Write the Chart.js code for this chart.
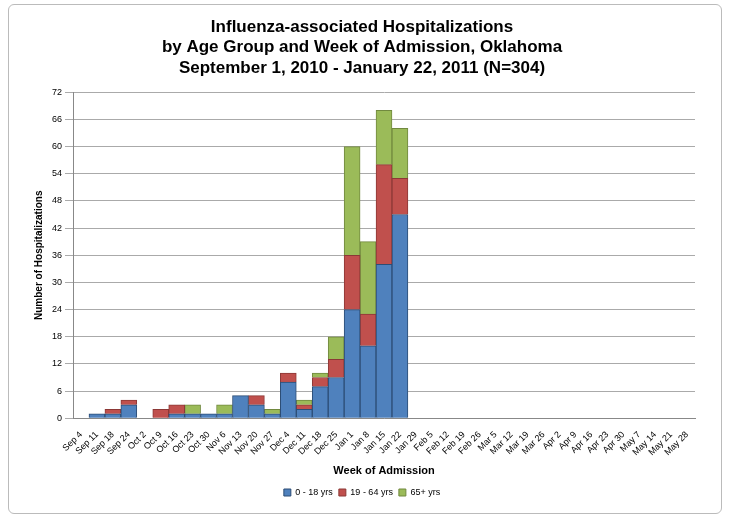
<!DOCTYPE html>
<html><head><script src="https://cdn.jsdelivr.net/npm/chart.js@4"></script>
<style>body{margin:0;background:#fff}#w{position:absolute;left:8px;top:4px;width:712px;height:508px;border:1px solid #bbb;border-radius:6px}</style></head>
<body><div id="w"><canvas id="c" width="712" height="508"></canvas></div>
<script>
const categories=["Sep 4","Sep 11","Sep 18","Sep 24","Oct 2","Oct 9","Oct 16","Oct 23","Oct 30","Nov 6","Nov 13","Nov 20","Nov 27","Dec 4","Dec 11","Dec 18","Dec 25","Jan 1","Jan 8","Jan 15","Jan 22","Jan 29","Feb 5","Feb 12","Feb 19","Feb 26","Mar 5","Mar 12","Mar 19","Mar 26","Apr 2","Apr 9","Apr 16","Apr 23","Apr 30","May 7","May 14","May 21","May 28"];
const age0_18=[0,1,1,3,0,0,1,1,1,1,5,3,1,8,2,7,9,24,16,34,45,0,0,0,0,0,0,0,0,0,0,0,0,0,0,0,0,0,0];
const age19_64=[0,0,1,1,0,2,2,0,0,0,0,2,0,2,1,2,4,12,7,22,8,0,0,0,0,0,0,0,0,0,0,0,0,0,0,0,0,0,0];
const age65=[0,0,0,0,0,0,0,2,0,2,0,0,1,0,1,1,5,24,16,12,11,0,0,0,0,0,0,0,0,0,0,0,0,0,0,0,0,0,0];
const ds=(l,d,bg,bc)=>({label:l,data:d,backgroundColor:bg,borderColor:bc,borderWidth:1,barPercentage:1,categoryPercentage:1});
new Chart(document.getElementById('c'),{type:'bar',data:{labels:categories,datasets:[
ds('0 - 18 yrs',age0_18,'#4f81bd','#2c4d75'),ds('19 - 64 yrs',age19_64,'#c0504d','#8c3836'),ds('65+ yrs',age65,'#9bbb59','#71893f')]},
options:{animation:false,responsive:false,devicePixelRatio:1,layout:{padding:{left:20,right:26,top:4,bottom:6}},
plugins:{title:{display:true,text:['Influenza-associated Hospitalizations','by Age Group and Week of Admission, Oklahoma','September 1, 2010 - January 22, 2011 (N=304)'],font:{family:'Arial, Liberation Sans',size:17,weight:'bold'},color:'#000',padding:{top:8,bottom:14},lineHeight:1.15},
legend:{position:'bottom',labels:{boxWidth:7,boxHeight:7,font:{family:'Arial, Liberation Sans',size:9},color:'#000',padding:6}}},
scales:{x:{stacked:true,grid:{display:false},border:{color:'#888'},ticks:{minRotation:45,maxRotation:45,autoSkip:false,font:{family:'Arial, Liberation Sans',size:9},color:'#000'},title:{display:true,text:'Week of Admission',font:{family:'Arial, Liberation Sans',size:11,weight:'bold'},color:'#000'}},
y:{stacked:true,min:0,max:72,ticks:{stepSize:3,font:{family:'Arial, Liberation Sans',size:9},color:'#000'},grid:{color:'#aaa'},border:{color:'#888'},title:{display:true,text:'Number of Hospitalizations',font:{family:'Arial, Liberation Sans',size:10,weight:'bold'},color:'#000'}}}}});
</script>
</body></html>
